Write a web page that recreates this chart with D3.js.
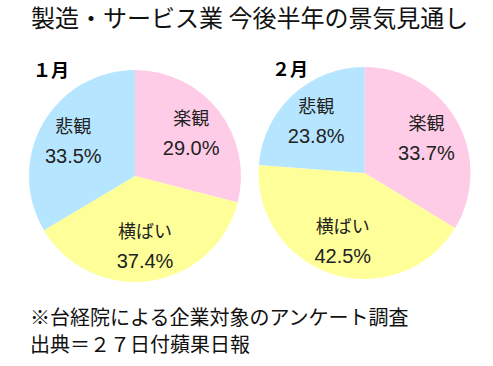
<!DOCTYPE html>
<html><head><meta charset="utf-8">
<script src="https://cdn.jsdelivr.net/npm/d3@7/dist/d3.min.js"></script>
<style>html,body{margin:0;padding:0;background:#fff;}svg{display:block;}</style>
</head><body>
<script>
const title = "製造・サービス業 今後半年の景気見通し";
const categories = ["楽観", "横ばい", "悲観"];
const months = ["１月", "２月"];
const janValues = [29.0, 37.4, 33.5];
const febValues = [33.7, 42.5, 23.8];
const notes = ["※台経院による企業対象のアンケート調査", "出典＝２７日付蘋果日報"];
const colors = ["#ffcce8", "#ffff99", "#b6e6ff"];

const W = 493, H = 366;
const font = "'Noto Sans CJK JP', 'Noto Sans', sans-serif";
const svg = d3.select("body").append("svg").attr("width", W).attr("height", H)
  .style("font-family", font);

svg.append("text").attr("x", 31).attr("y", 27).attr("font-size", 24)
  .attr("fill", "#111").text(title);

const color = d3.scaleOrdinal().domain(categories).range(colors);
const R = 106;
const pie = d3.pie().sort(null).value(d => d.v);
const arc = d3.arc().innerRadius(0).outerRadius(R);
const labelArc = d3.arc().innerRadius(R * 0.67).outerRadius(R * 0.67);

const charts = [
  {month: months[0], values: janValues, cx: 135, cy: 176, lx: 33},
  {month: months[1], values: febValues, cx: 364.5, cy: 173, lx: 272}
];

charts.forEach(c => {
  const data = categories.map((k, i) => ({k, v: c.values[i]}));
  const g = svg.append("g").attr("transform", `translate(${c.cx},${c.cy})`);
  const arcs = pie(data);
  g.selectAll("path").data(arcs).join("path")
    .attr("d", arc).attr("fill", d => color(d.data.k));
  const lab = g.selectAll("g.lab").data(arcs).join("g").attr("class", "lab")
    .attr("transform", d => `translate(${labelArc.centroid(d)})`);
  lab.append("text").attr("text-anchor", "middle").attr("y", -8)
    .attr("font-size", 18).attr("fill", "#222").text(d => d.data.k);
  lab.append("text").attr("text-anchor", "middle").attr("y", 22)
    .attr("font-size", 20).attr("fill", "#222")
    .style("font-family", "'Liberation Sans', Arial, sans-serif")
    .text(d => d.data.v.toFixed(1) + "%");
  svg.append("text").attr("x", c.lx).attr("y", c.month === months[0] ? 77 : 76)
    .attr("font-size", 18).attr("font-weight", "bold").attr("fill", "#000").text(c.month);
});

notes.forEach((t, i) => {
  svg.append("text").attr("x", 30).attr("y", 325 + i * 27).attr("font-size", 20)
    .attr("fill", "#111").text(t);
});
</script>
</body></html>
